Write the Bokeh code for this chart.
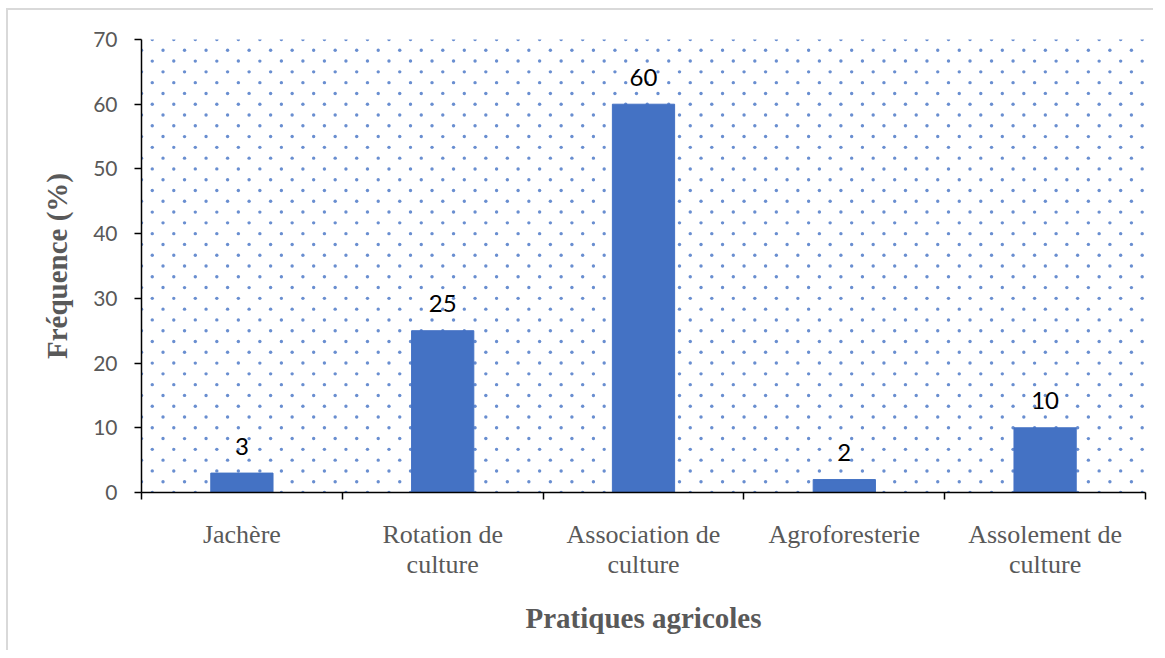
import numpy as np
from bokeh.plotting import figure
from bokeh.models import Range1d, FixedTicker, ColumnDataSource, LinearAxis
from bokeh.embed import file_html
from bokeh.resources import INLINE

# ---- data ----
categories = ["Jachère", "Rotation de\nculture", "Association de\nculture",
              "Agroforesterie", "Assolement de\nculture"]
frequence = [3, 25, 60, 2, 10]
y_ticks = [0, 10, 20, 30, 40, 50, 60, 70]

n = len(categories)
xs = np.arange(n) + 0.5

p = figure(frame_width=1004, frame_height=453,
           min_border_left=133, min_border_top=29, min_border_right=8, min_border_bottom=158,
           x_range=Range1d(0, n), y_range=Range1d(0, 70),
           output_backend="svg", toolbar_location=None,
           x_axis_type=None)
p.styles = {"border-left": "2px solid #d9d9d9", "border-top": "2px solid #d9d9d9",
            "margin-left": "6px", "margin-top": "8px"}
p.background_fill_color = "white"
p.border_fill_color = "white"
p.outline_line_color = None
p.xgrid.grid_line_color = None
p.ygrid.grid_line_color = None

# ---- dotted background texture ----
dx = 21.52 / 1004 * n
nrows = 42
dy = 70 / nrows
bx, by = [], []
for k in range(nrows + 1):
    off = dx / 2 if k % 2 == 0 else 0.0
    xr = np.arange(off, n + 1e-9, dx)
    bx.extend(xr)
    by.extend([70 - k * dy] * len(xr))
p.scatter(bx, by, size=3.4, fill_color="#4472C4", fill_alpha=0.8, line_color=None)

# ---- bars ----
src = ColumnDataSource(dict(x=xs, top=frequence, lab=[str(v) for v in frequence]))
p.vbar(x="x", top="top", bottom=0, width=0.31, source=src,
       fill_color="#4472C4", line_color="#4472C4")
p.text(x="x", y="top", text="lab", source=src, text_align="center",
       text_baseline="alphabetic", y_offset=-27, text_font_size="24px",
       text_font={"value": "Lato"}, text_color="black")

# ---- x axis ----
xaxis = LinearAxis(ticker=FixedTicker(ticks=list(xs), minor_ticks=list(range(n + 1))))
xaxis.major_label_overrides = {float(x): c for x, c in zip(xs, categories)}
xaxis.major_tick_line_color = None
xaxis.major_tick_out = 0
xaxis.major_tick_in = 0
xaxis.minor_tick_out = 7
xaxis.minor_tick_in = 0
xaxis.minor_tick_line_color = "black"
xaxis.minor_tick_line_width = 1.5
xaxis.axis_line_color = "black"
xaxis.axis_line_width = 1.5
xaxis.major_label_standoff = 20
xaxis.major_label_text_font = "Liberation Serif"
xaxis.major_label_text_font_size = "26px"
xaxis.major_label_text_color = "#595959"
xaxis.major_label_text_line_height = 1.05
xaxis.axis_label = "Pratiques agricoles"
xaxis.axis_label_text_font = "Liberation Serif"
xaxis.axis_label_text_font_style = "bold"
xaxis.axis_label_text_font_size = "29px"
xaxis.axis_label_text_color = "#595959"
xaxis.axis_label_standoff = 20
p.add_layout(xaxis, "below")

# ---- y axis ----
ya = p.yaxis[0]
ya.ticker = FixedTicker(ticks=y_ticks)
ya.major_tick_out = 7
ya.major_tick_in = 0
ya.minor_tick_line_color = None
ya.major_tick_line_color = "black"
ya.major_tick_line_width = 1.5
ya.axis_line_color = "black"
ya.axis_line_width = 1.5
ya.major_label_standoff = 17
ya.major_label_text_font = "Lato"
ya.major_label_text_font_size = "21px"
ya.major_label_text_color = "#595959"
ya.axis_label = "Fréquence (%)"
ya.axis_label_text_font = "Liberation Serif"
ya.axis_label_text_font_style = "bold"
ya.axis_label_text_font_size = "29px"
ya.axis_label_text_color = "#595959"
ya.axis_label_standoff = 17

open("out.html", "w").write(file_html(p, INLINE))
